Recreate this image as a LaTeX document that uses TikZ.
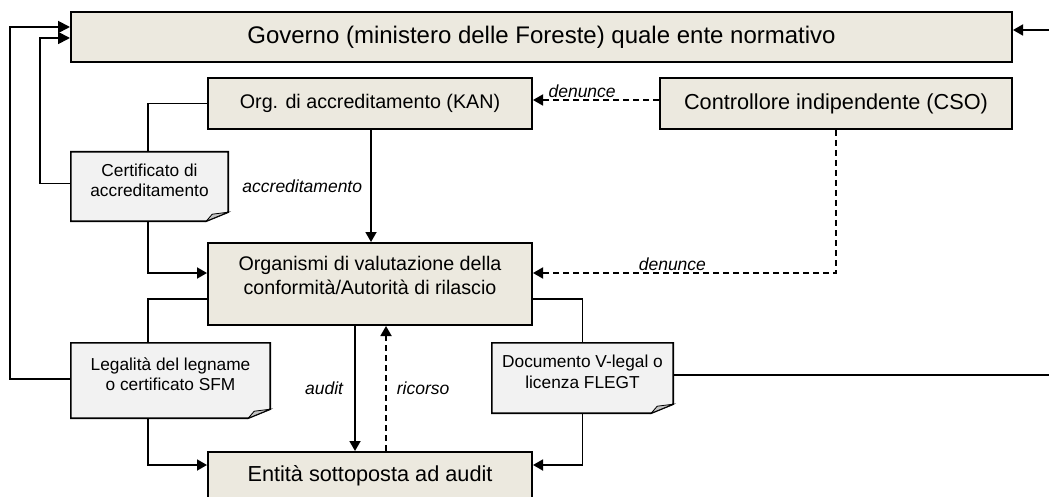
\documentclass[tikz,border=0pt]{standalone}
\usepackage{fontspec}
\setmainfont{Liberation Sans}
\usetikzlibrary{arrows.meta,backgrounds}
\definecolor{boxfill}{HTML}{ECE9DF}
\definecolor{notefill}{HTML}{F2F2F2}
\definecolor{foldfill}{HTML}{C4C4C4}
\begin{document}
\begin{tikzpicture}[x=1pt,y=-1pt,
 box/.style={draw, line width=2pt, fill=boxfill, inner sep=0pt, align=center},
 note/.style={inner sep=0pt, align=center, font=\fontsize{17.3}{20.5}\selectfont},
 noteline/.style={draw, line width=1.6pt, fill=notefill},
 conn/.style={line width=1.8pt},
 arr/.style={conn, -{Triangle[length=10pt,width=11pt]}},
 bigarr/.style={conn, -{Triangle[length=12pt,width=12pt]}},
 darr/.style={arr, dash pattern=on 6pt off 4pt},
 lbl/.style={font=\fontsize{17.5}{20}\selectfont\itshape, inner sep=1pt},
 big/.style={font=\fontsize{21.7}{26}\selectfont},
 mid/.style={font=\fontsize{19.7}{24}\selectfont}]
\useasboundingbox (0,0) rectangle (1049,497);

% boxes
\node[box, font=\fontsize{24}{28}\selectfont, minimum width=941pt, minimum height=50pt] (gov) at (541.5,37) {Governo (ministero delle Foreste) quale ente normativo};
\node[box, mid, minimum width=324pt, minimum height=51pt] (kan) at (370,103.5) {Org. di accreditamento (KAN)};
\node[box, big, minimum width=352pt, minimum height=51pt] (cso) at (836,103.5) {Controllore indipendente (CSO)};
\node[box, mid, minimum width=324pt, minimum height=82pt] (org) at (370,284) {Organismi di valutazione della\\conformità/Autorità di rilascio\\[-6pt]};
\node[box, big, minimum width=324pt, minimum height=48pt, anchor=north] (ent) at (370,451) {Entità sottoposta ad audit};

% notes
\node[note, minimum width=157pt, minimum height=69pt] (cert) at (149.5,186.5) {Certificato di\\accreditamento\\[-8pt]};
\node[note, minimum width=199pt, minimum height=75pt] (leg) at (170.5,380.5) {Legalità del legname\\o certificato SFM\\[-8pt]};
\node[note, minimum width=181pt, minimum height=70pt] (doc) at (582.5,378) {Documento V-legal o\\licenza FLEGT\\[-8pt]};

\begin{pgfonlayer}{background}
\foreach \n in {cert,leg,doc}{
  \draw[noteline] (\n.north west) -- (\n.north east) -- ([yshift=9pt]\n.south east)
     -- ([xshift=-22pt]\n.south east) -- (\n.south west) -- cycle;
  \draw[line width=0.8pt, fill=foldfill] ([xshift=-22pt]\n.south east) -- ([xshift=-16pt,yshift=7pt]\n.south east)
     -- ([yshift=9pt]\n.south east) -- cycle;
}
\end{pgfonlayer}

% connectors
\draw[conn] (kan.west) -| ([xshift=-1.5pt]cert.north);
\draw[arr] ([xshift=-1.5pt]cert.south) |- ([yshift=11pt]org.west);
\draw[bigarr] ([yshift=3pt]cert.west) -- ++(-31,0) |- ([yshift=-1pt]gov.west);
\draw[bigarr] ([yshift=1.5pt]leg.west) -- ++(-61,0) |- ([yshift=10pt]gov.west);
\draw[conn] ([yshift=-15pt]org.west) -| ([xshift=-22.5pt]leg.north);
\draw[arr] ([xshift=-22.5pt]leg.south) |- ([yshift=11pt]ent.west);
\draw[conn] ([yshift=-15pt]org.east) -| (doc.north);
\draw[arr] (doc.south) |- ([yshift=11pt]ent.east);
\coordinate (docend) at (1049,375);
\draw[conn] (doc.east |- docend) -- (docend);
\coordinate (govin) at (1049,30);
\draw[arr] (govin) -- (govin -| gov.east);

\draw[arr] ([xshift=1pt]kan.south) -- ([xshift=1pt]org.north)
  node[lbl, midway, left=7pt] {accreditamento};
\draw[darr] ([yshift=3.5pt]cso.west) -- ([yshift=3.5pt]kan.east)
  node[lbl, pos=0.61, above] {denunce};
\draw[darr] (cso.south) |- ([yshift=11pt]org.east)
  node[lbl, pos=0.77, above] {denunce};
\draw[arr] ([xshift=-15pt]org.south) -- ([xshift=-15pt]ent.north)
  node[lbl, midway, left=10pt] {audit};
\draw[darr] ([xshift=16pt]ent.north) -- ([xshift=16pt]org.south)
  node[lbl, midway, right=9pt] {ricorso};
\end{tikzpicture}
\end{document}
